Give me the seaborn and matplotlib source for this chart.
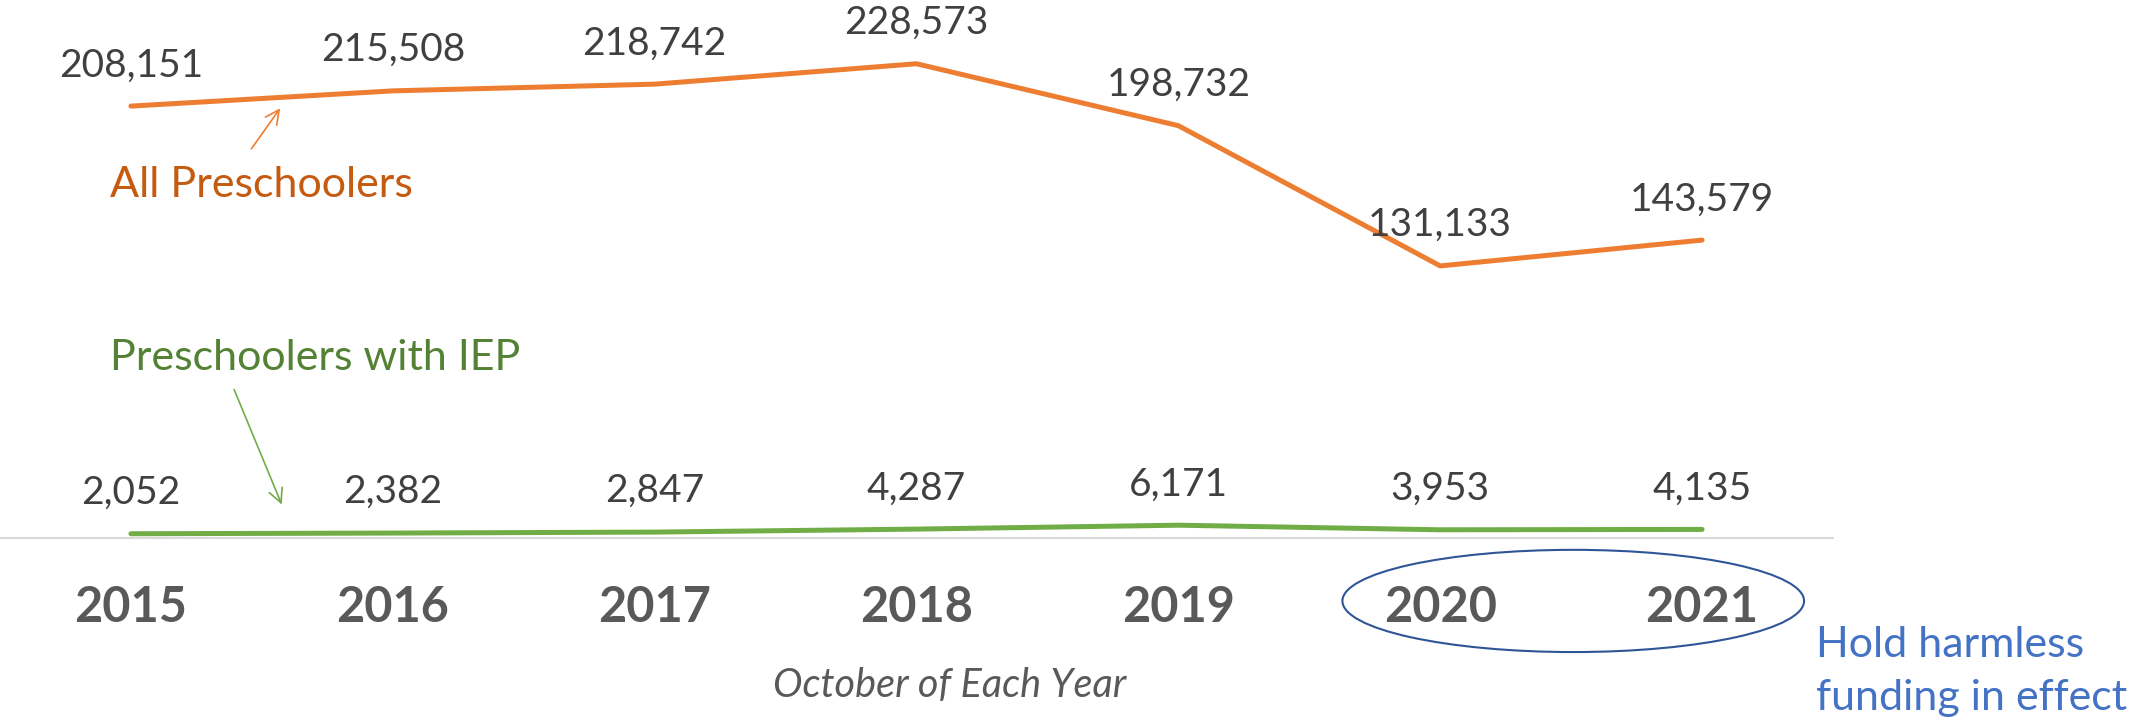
import pandas as pd
import seaborn as sns
import matplotlib.pyplot as plt
from matplotlib.patches import Ellipse
import matplotlib.transforms as mtransforms


years = [2015, 2016, 2017, 2018, 2019, 2020, 2021]
all_preschoolers = [208151, 215508, 218742, 228573, 198732, 131133, 143579]
with_iep = [2052, 2382, 2847, 4287, 6171, 3953, 4135]

orange = '#ED7D31'
green = '#70AD47'

df = pd.DataFrame({'year': years, 'all': all_preschoolers, 'iep': with_iep})

sns.set_theme(style="white")
plt.rcParams['font.family'] = ['Lato', 'DejaVu Sans']

fig = plt.figure(figsize=(21.43, 7.21), dpi=100)
ax = fig.add_axes([0, 183 / 721, 1833 / 2143, 538 / 721])

sns.lineplot(data=df, x='year', y='all', color=orange, linewidth=3.6, ax=ax)
sns.lineplot(data=df, x='year', y='iep', color=green, linewidth=3.6, ax=ax)
for line in ax.lines:
    line.set_solid_capstyle('round')
    line.set_clip_on(False)

# data labels
for x, v in zip(years, all_preschoolers):
    ax.annotate(f"{v:,}", (x, v), xytext=(0, 21.5), textcoords='offset points',
                ha='center', va='baseline', fontsize=28, color='#404040')
for x, v in zip(years, with_iep):
    ax.annotate(f"{v:,}", (x, v), xytext=(0, 21.5), textcoords='offset points',
                ha='center', va='baseline', fontsize=28, color='#404040')

ax.set_xlim(2014.5, 2021.5)
ax.set_ylim(0, 259300)
ax.set_xticks(years)
ax.set_xticklabels([str(y) for y in years], fontsize=35, fontweight='bold', color='#595959')
ax.tick_params(axis='x', length=0, pad=34)
ax.set_yticks([])
ax.set_xlabel('')
ax.set_ylabel('')
for s in ['top', 'left', 'right']:
    ax.spines[s].set_visible(False)
ax.spines['bottom'].set_color('#D9D9D9')
ax.spines['bottom'].set_linewidth(1.5)

# series labels with arrows
ax.text(2014.92, 164400, 'All Preschoolers', fontsize=31, color='#C55A11', va='baseline')
ax.annotate('', xy=(2015.576, 208200), xytext=(2015.454, 186500),
            arrowprops=dict(arrowstyle='->', color=orange, lw=1.2, mutation_scale=25))
ax.text(2014.92, 81000, 'Preschoolers with IEP', fontsize=31, color='#548235', va='baseline')
ax.annotate('', xy=(2015.58, 14900), xytext=(2015.39, 72800),
            arrowprops=dict(arrowstyle='->', color=green, lw=1.2, mutation_scale=25))

# ellipse around 2020-2021
trans = mtransforms.blended_transform_factory(ax.transData, ax.transAxes)
ax.add_patch(Ellipse((2020.508, -0.117), 1.763, 0.19, transform=trans, fill=False,
                     edgecolor='#2F5597', lw=1.5, clip_on=False))

fig.text(950 / 2143, 24 / 721, 'October of Each Year', fontsize=28.5, style='italic',
         color='#595959', ha='center', va='baseline')
fig.text(1816 / 2143, 64 / 721, 'Hold harmless', fontsize=31, color='#4472C4', va='baseline')
fig.text(1816 / 2143, 11 / 721, 'funding in effect', fontsize=31, color='#4472C4', va='baseline')

plt.savefig('out.png', dpi=100)
